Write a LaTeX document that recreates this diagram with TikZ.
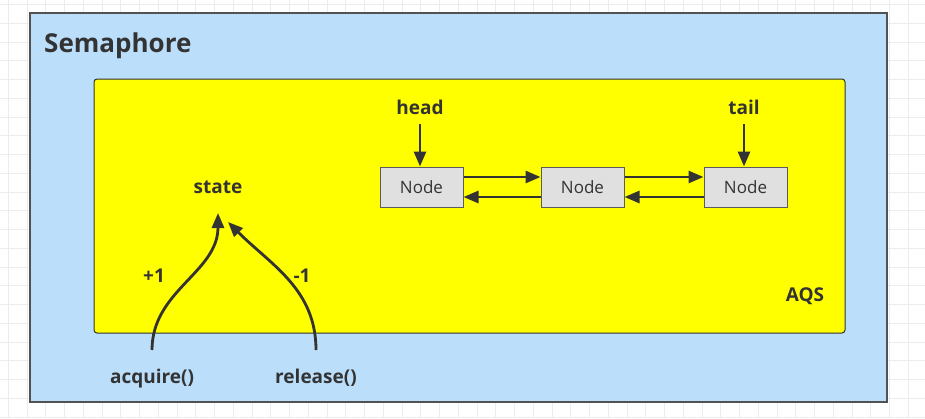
\documentclass[tikz,border=0pt]{standalone}
\usepackage{fontspec}
\setmainfont{Open Sans}
\usetikzlibrary{arrows.meta}

\definecolor{semablue}{RGB}{187,222,251}
\definecolor{aqsyellow}{RGB}{255,255,0}
\definecolor{nodegray}{RGB}{224,224,224}
\definecolor{inkgray}{RGB}{51,51,51}
\definecolor{gridgray}{RGB}{236,236,236}

\tikzset{
  txt/.style={font=\bfseries\fontsize{19}{21}\selectfont, text=inkgray, inner sep=0pt},
  qnode/.style={draw=inkgray!80, fill=nodegray, line width=1pt, minimum width=83pt, minimum height=40pt, font=\fontsize{17}{19}\selectfont, text=inkgray, inner sep=0pt},
  link/.style={draw=inkgray, line width=2.8pt, -{Triangle[length=15pt,width=12pt]}},
  gridline/.style={draw=gridgray, line width=1pt}
}

\begin{document}
\begin{tikzpicture}[x=1pt, y=-1pt]
\useasboundingbox (0,0) rectangle (925,418);
% background grid
\foreach \gx in {0,...,49}
  \draw [gridline] (8.3+18.75*\gx,0) -- (8.3+18.75*\gx,418);
\foreach \gy in {0,...,22}
  \draw [gridline] (0,4.5+18.75*\gy) -- (925,4.5+18.75*\gy);
% containers
\node [draw=inkgray!85, fill=semablue, line width=1.5pt, minimum width=857pt, minimum height=389pt, inner sep=0pt] (sema) at (458.5,207.5) {};
\node [draw=inkgray, fill=aqsyellow, line width=1pt, rounded corners=3pt, minimum width=751pt, minimum height=254pt, inner sep=0pt] (aqs) at (469.5,206) {};
\node [txt, font=\bfseries\fontsize{26}{29}\selectfont, anchor=base west] (title) at (44,52) {Semaphore};
\node [txt, anchor=base] (aqslabel) at (805,301) {AQS};
% queue
\node [qnode] (n1) at (421.5,187) {Node};
\node [qnode] (n2) at (582.5,187) {Node};
\node [qnode] (n3) at (745.5,187) {Node};
\node [txt, anchor=base] (head) at (420,114) {head};
\node [txt, anchor=base] (tail) at (744,114) {tail};
\draw [link, shorten <=10pt] (head.south) -- (head.south |- n1.north);
\draw [link, shorten <=10pt] (tail.south) -- (tail.south |- n3.north);
\draw [link] ([yshift=10pt]n1.east) -- ([yshift=10pt]n2.west);
\draw [link] ([yshift=-10pt]n2.west) -- ([yshift=-10pt]n1.east);
\draw [link] ([yshift=10pt]n2.east) -- ([yshift=10pt]n3.west);
\draw [link] ([yshift=-10pt]n3.west) -- ([yshift=-10pt]n2.east);
% state
\node [txt, anchor=base] (state) at (218,193) {state};
\node [txt, anchor=base] (acq) at (152,383) {acquire()};
\node [txt, anchor=base] (rel) at (316,383) {release()};
\draw [link] ([yshift=33pt]acq.base) to[out=90, in=-90] ([yshift=-20pt]state.base);
\draw [link] ([yshift=33pt]rel.base) to[out=90, in=-45] ([xshift=10pt, yshift=-29pt]state.base);
\node [txt, anchor=base] (plus) at (154,282) {+1};
\node [txt, anchor=base] (minus) at (302,282) {-1};
\end{tikzpicture}
\end{document}
